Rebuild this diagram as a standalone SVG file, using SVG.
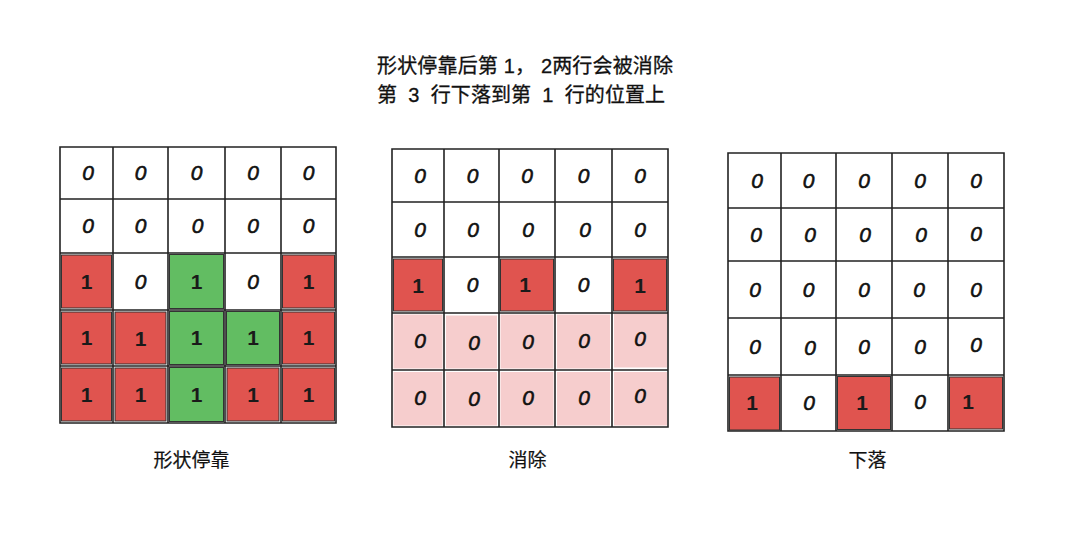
<svg xmlns="http://www.w3.org/2000/svg" width="1080" height="554" viewBox="0 0 1080 554">
<style>
.bg{fill:#ffffff}
.grid{fill:none;stroke:#222;stroke-width:1.6;stroke-linecap:round}
.r{fill:#e0544f;stroke:#333;stroke-width:1}
.g{fill:#62bd62;stroke:#333;stroke-width:1}
.p{fill:#f6cdcd;stroke:none}
.z{font-family:"Liberation Sans","DejaVu Sans",sans-serif;font-size:21px;font-style:italic;fill:#111;stroke:#111;stroke-width:0.6;text-anchor:middle}
.o{font-family:"Liberation Sans","DejaVu Sans",sans-serif;font-size:21px;font-weight:bold;fill:#1a1a1a;text-anchor:middle}
.t{font-family:"Liberation Sans","Noto Sans CJK SC",sans-serif;font-size:20px;fill:#111;stroke:#111;stroke-width:0.3;white-space:pre}
.lbl{font-family:"Liberation Sans","Noto Sans CJK SC",sans-serif;font-size:19px;fill:#111;stroke:#111;stroke-width:0.2;text-anchor:middle}
</style>
<rect class="bg" x="0" y="0" width="1080" height="554"/>

<g id="title">
<text class="t" x="377" y="73" textLength="296" lengthAdjust="spacing">形状停靠后第 1， 2两行会被消除</text>
<text class="t" x="377" y="102" textLength="288" lengthAdjust="spacing">第  3  行下落到第  1  行的位置上</text>
</g>

<g id="grid-stop">
<rect class="bg" x="60" y="147" width="276" height="276"/>
<rect class="r" x="61.5" y="255" width="50" height="53"/>
<rect class="g" x="169.5" y="254.5" width="54" height="54"/>
<rect class="r" x="282.5" y="255" width="52" height="53"/>
<rect class="r" x="61.5" y="312" width="50" height="52"/>
<rect class="r" x="115" y="312" width="51" height="52"/>
<rect class="g" x="169.5" y="311.5" width="54" height="53"/>
<rect class="g" x="226.5" y="311.5" width="53" height="53"/>
<rect class="r" x="282.5" y="312" width="52" height="52"/>
<rect class="r" x="61.5" y="368" width="50" height="53"/>
<rect class="r" x="115" y="368" width="51" height="53"/>
<rect class="g" x="169.5" y="367.5" width="54" height="54"/>
<rect class="r" x="227" y="368" width="52" height="53"/>
<rect class="r" x="282.5" y="368" width="52" height="53"/>
<path class="grid" d="M60 147H336V423H60Z M113 147V423 M168 147V423 M225 147V423 M281 147V423 M60 199H336 M60 253H336 M60 310H336 M60 366H336"/>
<text class="z" x="88" y="180">0</text><text class="z" x="140.5" y="180">0</text><text class="z" x="196.5" y="180">0</text><text class="z" x="253" y="180">0</text><text class="z" x="308.5" y="180">0</text>
<text class="z" x="88" y="233">0</text><text class="z" x="140.5" y="233">0</text><text class="z" x="197.5" y="233">0</text><text class="z" x="253" y="233">0</text><text class="z" x="308.5" y="233">0</text>
<text class="o" x="86.5" y="289">1</text><text class="z" x="140.5" y="288.5">0</text><text class="o" x="196.5" y="289">1</text><text class="z" x="253" y="288.5">0</text><text class="o" x="308.5" y="289">1</text>
<text class="o" x="86.5" y="345">1</text><text class="o" x="140.5" y="346">1</text><text class="o" x="196.5" y="345">1</text><text class="o" x="253" y="345">1</text><text class="o" x="308.5" y="345">1</text>
<text class="o" x="86.5" y="402">1</text><text class="o" x="140.5" y="402">1</text><text class="o" x="196.5" y="402">1</text><text class="o" x="253" y="402">1</text><text class="o" x="308.5" y="402">1</text>
<text class="lbl" x="191.5" y="467">形状停靠</text>
</g>

<g id="grid-clear">
<rect class="bg" x="392" y="149" width="276" height="278"/>
<rect class="p" x="393.5" y="314.5" width="49" height="54"/>
<rect class="p" x="446" y="315.5" width="51" height="53"/>
<rect class="p" x="500.5" y="314.5" width="53" height="54"/>
<rect class="p" x="557" y="314.5" width="53" height="54"/>
<rect class="p" x="614" y="313.5" width="53" height="54"/>
<rect class="p" x="393.5" y="372" width="49" height="53.5"/>
<rect class="p" x="446" y="372" width="51" height="53.5"/>
<rect class="p" x="500.5" y="372" width="53" height="53.5"/>
<rect class="p" x="557" y="372" width="53" height="53.5"/>
<rect class="p" x="614" y="372" width="53" height="53.5"/>
<rect class="r" x="393.5" y="259" width="49" height="52"/>
<rect class="r" x="500.5" y="259" width="53" height="52"/>
<rect class="r" x="613.5" y="259" width="53" height="52"/>
<path class="grid" d="M392 149H668V427H392Z M444 149V427 M499 149V427 M555 149V427 M612 149V427 M392 202H668 M392 257H668 M392 313H668 M392 370H668"/>
<text class="z" x="420" y="182.5">0</text><text class="z" x="472.5" y="182.5">0</text><text class="z" x="527" y="182.5">0</text><text class="z" x="583.5" y="182.5">0</text><text class="z" x="640" y="182.5">0</text>
<text class="z" x="420" y="236.5">0</text><text class="z" x="473" y="236.5">0</text><text class="z" x="528" y="236.5">0</text><text class="z" x="585" y="236.5">0</text><text class="z" x="640" y="236.5">0</text>
<text class="o" x="418" y="293">1</text><text class="z" x="472.5" y="292">0</text><text class="o" x="525" y="292">1</text><text class="z" x="583.5" y="292">0</text><text class="o" x="640" y="293">1</text>
<text class="z" x="420" y="347.5">0</text><text class="z" x="474" y="349.5">0</text><text class="z" x="528" y="348.5">0</text><text class="z" x="584" y="347.5">0</text><text class="z" x="640" y="346">0</text>
<text class="z" x="420" y="404.5">0</text><text class="z" x="474" y="405.5">0</text><text class="z" x="528" y="404.5">0</text><text class="z" x="584" y="404.5">0</text><text class="z" x="640" y="403">0</text>
<text class="lbl" x="527.5" y="467">消除</text>
</g>

<g id="grid-drop">
<rect class="bg" x="728" y="153" width="276" height="278"/>
<rect class="r" x="729.5" y="377" width="50" height="53"/>
<rect class="r" x="837.5" y="376.5" width="53" height="53"/>
<rect class="r" x="949.5" y="377" width="53" height="52"/>
<path class="grid" d="M728 153H1004V431H728Z M781 153V431 M836 153V431 M892 153V431 M948 153V431 M728 208H1004 M728 261H1004 M728 318H1004 M728 375H1004"/>
<text class="z" x="757" y="187.5">0</text><text class="z" x="808.5" y="187.5">0</text><text class="z" x="864" y="187.5">0</text><text class="z" x="920" y="187.5">0</text><text class="z" x="976" y="187.5">0</text>
<text class="z" x="756" y="241.5">0</text><text class="z" x="810" y="241.5">0</text><text class="z" x="865" y="241.5">0</text><text class="z" x="921" y="241.5">0</text><text class="z" x="976" y="240.5">0</text>
<text class="z" x="755" y="296.5">0</text><text class="z" x="808.5" y="296.5">0</text><text class="z" x="864" y="296.5">0</text><text class="z" x="919" y="296.5">0</text><text class="z" x="976" y="296.5">0</text>
<text class="z" x="755" y="353.5">0</text><text class="z" x="810" y="355">0</text><text class="z" x="864" y="354">0</text><text class="z" x="920" y="353.5">0</text><text class="z" x="976" y="352">0</text>
<text class="o" x="752" y="410">1</text><text class="z" x="809" y="410">0</text><text class="o" x="862" y="410">1</text><text class="z" x="920" y="409">0</text><text class="o" x="968" y="409">1</text>
<text class="lbl" x="867.5" y="467">下落</text>
</g>
</svg>
